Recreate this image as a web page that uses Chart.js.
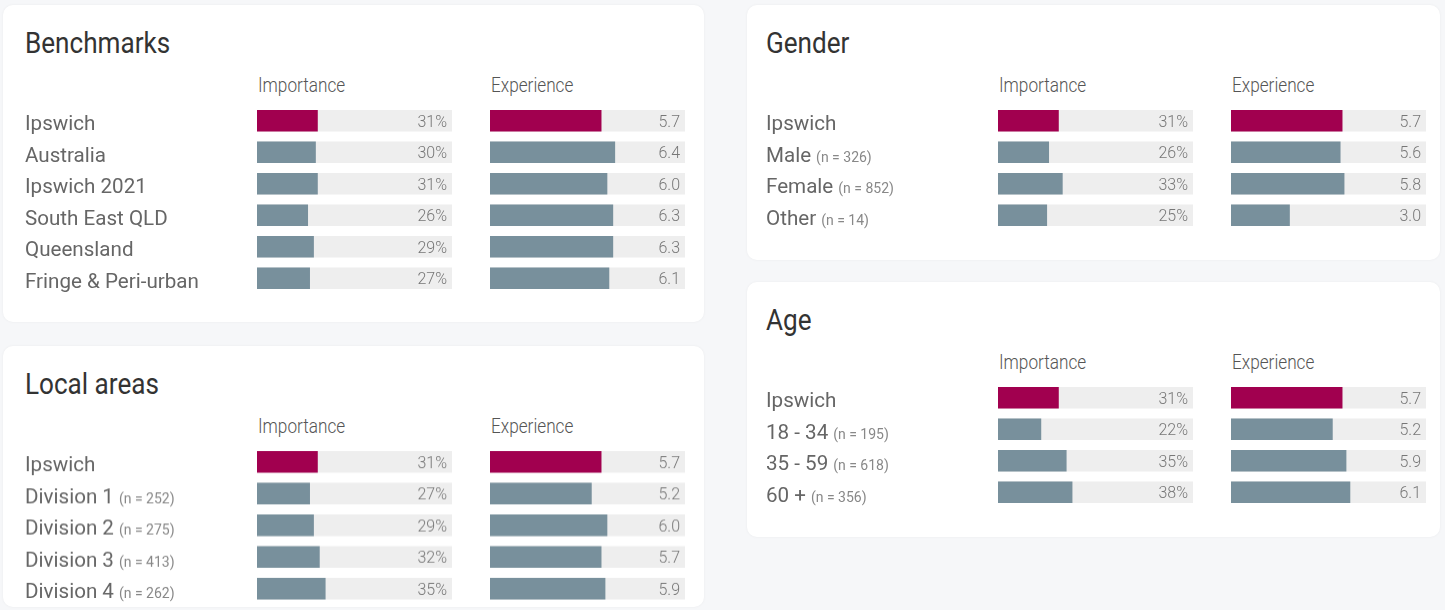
<!DOCTYPE html>
<html>
<head>
<meta charset="utf-8">
<script src="https://cdn.jsdelivr.net/npm/chart.js@4.4.1/dist/chart.umd.min.js"></script>
<style>
  body { margin: 0; width: 1445px; height: 610px; background: #f6f7f9; font-family: Roboto, sans-serif; overflow: hidden; position: relative; }
  .panel { position: absolute; background: #fff; border-radius: 10px; box-shadow: 0 0 3px rgba(0,0,0,0.05); }
  .title { position: absolute; font-size: 29px; line-height: 30px; color: #333; transform: scaleX(0.9); transform-origin: left; white-space: nowrap; }
  .head { position: absolute; font-size: 20px; line-height: 20px; color: #555; font-weight: 300; transform: scaleX(0.86); transform-origin: left; white-space: nowrap; }
  .box { position: absolute; }
</style>
</head>
<body>
<script>
// data
const benchLabels = ['Ipswich', 'Australia', 'Ipswich 2021', 'South East QLD', 'Queensland', 'Fringe & Peri-urban'];
const benchNotes = [null, null, null, null, null, null];
const benchImportance = [31, 30, 31, 26, 29, 27];
const benchExperience = [5.7, 6.4, 6.0, 6.3, 6.3, 6.1];

const localLabels = ['Ipswich', 'Division 1', 'Division 2', 'Division 3', 'Division 4'];
const localNotes = [null, 252, 275, 413, 262];
const localImportance = [31, 27, 29, 32, 35];
const localExperience = [5.7, 5.2, 6.0, 5.7, 5.9];

const genderLabels = ['Ipswich', 'Male', 'Female', 'Other'];
const genderNotes = [null, 326, 852, 14];
const genderImportance = [31, 26, 33, 25];
const genderExperience = [5.7, 5.6, 5.8, 3.0];

const ageLabels = ['Ipswich', '18 - 34', '35 - 59', '60 +'];
const ageNotes = [null, 195, 618, 356];
const ageImportance = [31, 22, 35, 38];
const ageExperience = [5.7, 5.2, 5.9, 6.1];

const importanceMax = 100;
const experienceMax = 10;

const MAGENTA = '#a1004f';
const SLATE = '#78909c';
const TRACK = '#eeeeee';
const ROW = 31.5;
const TRACK_W = 195;

const valueLabels = fmt => ({
    id: 'valueLabels',
    afterDatasetsDraw(chart) {
        const { ctx, chartArea } = chart;
        const values = chart.data.datasets[0].data;
        ctx.save();
        ctx.font = '300 16px Roboto';
        ctx.fillStyle = '#777';
        ctx.textAlign = 'right';
        chart.getDatasetMeta(0).data.forEach((bar, i) => {
            ctx.fillText(fmt(values[i]), chartArea.right - 5, bar.y + 6);
        });
        ctx.restore();
    }
});

const rowLabels = notes => ({
    id: 'rowLabels',
    afterDraw(chart) {
        const ctx = chart.ctx;
        ctx.save();
        ctx.textAlign = 'left';
        chart.getDatasetMeta(0).data.forEach((bar, i) => {
            const y = bar.y + 9.5;
            ctx.font = '20.6px Roboto';
            ctx.fillStyle = '#666';
            const label = chart.data.labels[i];
            ctx.fillText(label, 0, y);
            if (notes[i] != null) {
                const w = ctx.measureText(label).width;
                ctx.font = '14px Roboto';
                ctx.fillStyle = '#888';
                ctx.fillText(`(n = ${notes[i]})`, w + 5, y);
            }
        });
        ctx.restore();
    }
});

function addEl(cls, text, left, top, w, h) {
    const el = document.createElement('div');
    el.className = cls;
    if (text) el.textContent = text;
    el.style.left = left + 'px';
    el.style.top = top + 'px';
    if (w) el.style.width = w + 'px';
    if (h) el.style.height = h + 'px';
    document.body.appendChild(el);
    return el;
}

function barChart(left, top, width, labels, values, max, padLeft, plugins) {
    const box = addEl('box', null, left, top, width, labels.length * ROW);
    const canvas = document.createElement('canvas');
    box.appendChild(canvas);
    return new Chart(canvas, {
        type: 'bar',
        data: {
            labels: labels,
            datasets: [
                { data: values, backgroundColor: values.map((v, i) => i === 0 ? MAGENTA : SLATE), order: 0 },
                { data: values.map(() => max), backgroundColor: TRACK, order: 1 }
            ]
        },
        options: {
            indexAxis: 'y',
            responsive: true,
            maintainAspectRatio: false,
            animation: false,
            layout: { padding: { left: padLeft, right: 0, top: 0, bottom: 0 } },
            datasets: { bar: { grouped: false, barThickness: 21, borderWidth: 0 } },
            scales: {
                x: { display: false, min: 0, max: max },
                y: { display: false, offset: true }
            },
            plugins: { legend: { display: false }, tooltip: { enabled: false } }
        },
        plugins: plugins
    });
}

function panel(p, title, labels, notes, importance, experience) {
    addEl('panel', null, p.left, p.top, p.width, p.height);
    addEl('title', title, p.labelX, p.top + 23);
    addEl('head', 'Importance', p.impX + 1, p.top + 70);
    addEl('head', 'Experience', p.expX + 1, p.top + 70);
    const rowsTop = p.top + 100;
    barChart(p.labelX, rowsTop, p.impX + TRACK_W - p.labelX, labels, importance, importanceMax,
        p.impX - p.labelX, [valueLabels(v => `${v}%`), rowLabels(notes)]);
    barChart(p.expX, rowsTop, TRACK_W, labels, experience, experienceMax,
        0, [valueLabels(v => v.toFixed(1))]);
}

panel({ left: 3, top: 5, width: 701, height: 317, labelX: 25, impX: 257, expX: 490 },
    'Benchmarks', benchLabels, benchNotes, benchImportance, benchExperience);
panel({ left: 3, top: 346, width: 701, height: 261, labelX: 25, impX: 257, expX: 490 },
    'Local areas', localLabels, localNotes, localImportance, localExperience);
panel({ left: 747, top: 5, width: 693, height: 255, labelX: 766, impX: 998, expX: 1231 },
    'Gender', genderLabels, genderNotes, genderImportance, genderExperience);
panel({ left: 747, top: 282, width: 693, height: 255, labelX: 766, impX: 998, expX: 1231 },
    'Age', ageLabels, ageNotes, ageImportance, ageExperience);
</script>
</body>
</html>
